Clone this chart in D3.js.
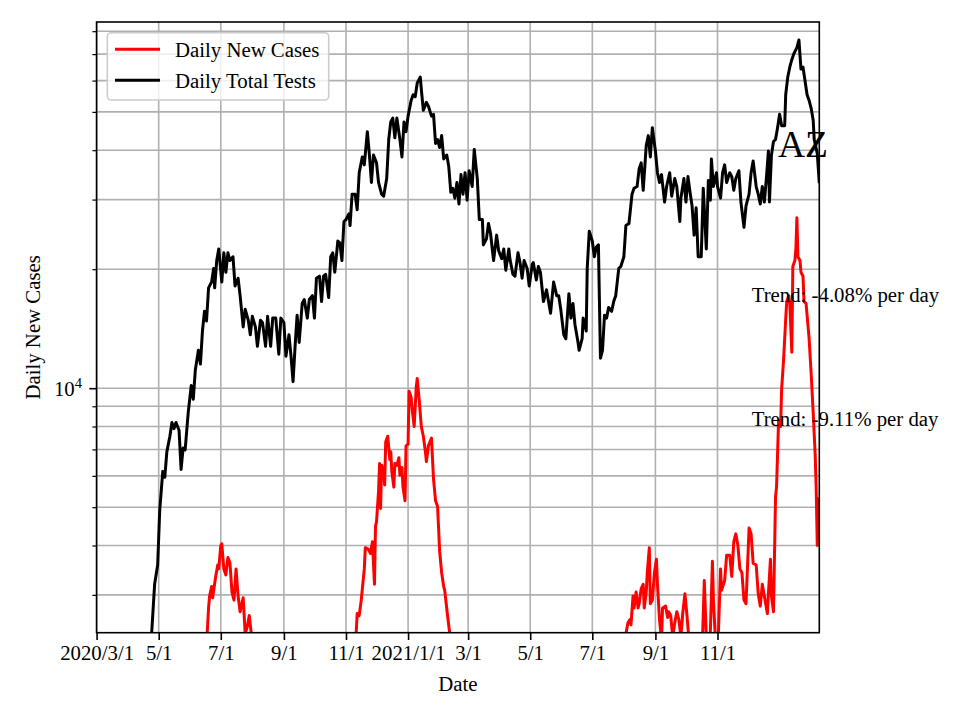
<!doctype html>
<html lang="en">

<head>
  <meta charset="utf-8" />
  <title>AZ - Daily New Cases and Daily Total Tests</title>
  <script src="https://d3js.org/d3.v7.min.js"></script>
  <style>
    body { margin: 0; background: #fff; }
    svg { display: block; font-family: "Liberation Serif", "Times New Roman", serif; }
  </style>
</head>

<body>
  <div id="my_dataviz"></div>
  <script>
    // days counted from 2020/3/1
    const testDays = [45, 54, 57, 60, 62, 65, 67, 69, 72, 74, 76, 78, 81, 83, 85, 87, 90, 93, 95, 97, 100, 102, 104, 106, 108, 110, 113, 115, 116, 118, 120,
      123, 125, 127, 129, 131, 134, 136, 139, 141, 144, 146, 149, 151, 153, 156, 158, 161, 163, 166, 168, 171, 173, 176, 179, 181, 184, 186, 189, 191, 193, 195, 197, 199,
      202, 204, 207, 209, 212, 214, 216, 219, 221, 223, 225, 228, 230, 232, 234, 237, 239, 241, 243, 245, 248, 249, 251, 254, 256, 258, 261, 263, 266, 268, 270, 272,
      275, 277, 280, 282, 285, 287, 289, 291, 293, 295, 298, 300, 302, 304, 306, 309, 311, 313, 315, 318, 319, 321, 324, 326, 329, 331, 333, 335, 337, 339, 341, 344,
      346, 348, 350, 352, 354, 356, 358, 360, 362, 364, 366, 369, 371, 374, 376, 379, 380, 383, 385, 387, 390, 393, 395, 398, 400, 402, 405, 406, 409, 411, 414, 416,
      418, 420, 423, 425, 428, 429, 432, 434, 436, 439, 442, 444, 446, 449, 452, 454, 456, 459, 461, 464, 466, 468, 470, 473, 474, 477, 478, 481, 482, 484, 487, 489,
      491, 493, 495, 497, 499, 501, 503, 506, 508, 510, 513, 515, 518, 520, 523, 526, 528, 531, 533, 535, 537, 540, 542, 544, 546, 549, 551, 553, 555, 558, 560, 563,
      565, 568, 570, 573, 574, 577, 579, 581, 583, 585, 587, 589, 591, 594, 596, 599, 601, 603, 604, 606, 609, 610, 613, 615, 617, 619, 622, 624, 626, 628, 631, 633,
      636, 638, 641, 643, 645, 648, 650, 652, 654, 656, 658, 660, 661, 663, 665, 667, 669, 671, 673, 676, 677, 679, 681, 683, 685, 688, 690, 692, 694, 696, 698, 700,
      702, 704, 705, 708, 710];
    const testValues = [1500, 2380, 3190, 3570, 4900, 6160, 5950, 6900, 7560, 8190, 7900, 8190, 7830, 6230, 7060, 6980, 8670, 10160, 9380, 11120, 12470, 11510, 13960, 15660, 14790, 17940, 18570, 20090, 17940, 21030, 22500,
      18560, 22000, 19650, 22000, 21030, 21500, 18140, 18980, 17140, 14290, 15830, 14860, 13650, 15200, 14290, 12760, 14860, 14650, 12760, 15200, 12760, 15040, 15040, 12190, 15040, 14650, 12050, 13650, 12050, 10390, 12760, 15300, 13050,
      16380, 16760, 15040, 16760, 17140, 15040, 18980, 19200, 16560, 19200, 19420, 16950, 21500, 22000, 19650, 23570, 23320, 21030, 26400, 26700, 27630, 25790, 30950, 30950, 28270, 35080, 38450, 36720, 44560, 38900, 33140, 38900,
      37150, 33140, 30950, 30600, 33900, 42560, 47130, 48220, 43000, 48220, 42560, 38450, 47130, 44560, 48770, 53440, 55240, 54600, 59180, 61220, 57100, 50480, 52840, 51650, 48770, 49300, 41590, 42560, 40630, 43550, 38020, 38900,
      36310, 31300, 32040, 30250, 33140, 29240, 34700, 30950, 35080, 29900, 35500, 32370, 40180, 33900, 26700, 26700, 23040, 23860, 26100, 24660, 21030, 24390, 22260, 21270, 22500, 19880, 22500, 21270, 19420, 19200, 22000, 20790,
      18980, 21030, 20090, 18140, 20560, 20790, 18770, 20320, 19650, 16560, 17740, 16560, 15480, 18560, 17140, 17140, 15830, 13650, 13340, 17340, 15040, 16380, 14450, 13050, 12470, 13340, 15040, 13960, 20090, 24940, 23570, 21500,
      22760, 23040, 11910, 12470, 15300, 15040, 16000, 15650, 16560, 17140, 20090, 20320, 21500, 25810, 26100, 30950, 32040, 32370, 35890, 37150, 31670, 41120, 43550, 38450, 45600, 39770, 35080, 33140, 34700, 29570, 32370, 35080,
      30600, 33900, 32370, 26400, 30250, 33900, 29570, 34300, 31300, 28920, 24390, 28600, 21500, 21500, 32040, 22500, 33520, 29900, 38000, 32370, 35080, 32370, 30250, 35080, 36720, 33140, 35080, 34300, 31670, 33900, 35500, 29570,
      25520, 28920, 30950, 35080, 37570, 32370, 30950, 29240, 32370, 29570, 33900, 39810, 29570, 38900, 42070, 42560, 45600, 49330, 46130, 46130, 55240, 61220, 64860, 67780, 70190, 72650, 76000, 64160, 64860, 59840, 55240, 53440,
      51050, 47650, 42560, 39260, 33000];

    const caseDays = [107, 110, 111, 113, 114, 117, 119, 120, 122, 123, 125, 127, 129, 131, 133, 135, 137, 139, 141, 144, 146, 148, 150, 152, 156, 200, 250,
      255, 256, 258, 260, 263, 264, 267, 269, 271, 273, 274, 275, 277, 278, 279, 280, 282, 283, 284, 286, 288, 289, 290, 292, 293, 295, 297, 298, 300, 301, 303, 304,
      306, 307, 309, 310, 312, 314, 315, 317, 319, 321, 323, 324, 326, 329, 331, 333, 335, 337, 339, 341, 342, 345, 347, 350, 420, 500,
      519, 520, 522, 524, 525, 527, 528, 530, 532, 533, 535, 537, 538, 540, 541, 543, 544, 546, 548, 550, 551, 553, 555, 556, 559, 561, 562, 564, 566, 568, 570, 572,
      574, 576, 578, 580, 582, 585, 590, 595, 597, 599, 601, 603, 605, 606, 608, 610, 611, 613, 614, 617, 619, 622, 624, 626, 628, 630, 632, 634, 636, 638, 641, 643,
      645, 648, 650, 652, 654, 656, 659, 660, 662, 663, 665, 667, 668, 670, 672, 673, 675, 677, 678, 680, 681, 683, 684, 686, 687, 688, 689, 691, 692, 694, 695, 697,
      700, 702, 704, 706, 707, 708, 709];
    const caseValues = [2000, 2780, 2980, 3150, 2950, 3340, 3570, 3490, 4000, 4040, 3490, 3370, 3730, 3610, 3050, 2910, 3490, 2980, 2720, 2950, 2390, 2490, 2660, 2390, 1900, 1600, 1900,
      2400, 2690, 2660, 2910, 3490, 3950, 3910, 3820, 4090, 3190, 4480, 4590, 5500, 6450, 4960, 6380, 6160, 5690, 7310, 7560, 6600, 6910, 6160, 5620, 6450, 6380, 6670, 6020, 6300, 5620, 5190, 7150,
      7220, 9820, 9490, 8860, 8000, 10050, 10580, 9280, 8000, 7560, 6910, 6520, 7150, 7480, 5890, 5190, 5020, 3870, 3410, 3150, 3080, 2630, 2390, 2000, 1500, 1700,
      2100, 2390, 2550, 2600, 2520, 2980, 2780, 3050, 2780, 2850, 3110, 3190, 2780, 3050, 3410, 3950, 2850, 2910, 3410, 3690, 3190, 2600, 2300, 2780, 2810, 2630, 2720, 2660, 2350, 2550, 2720, 2600,
      2350, 2720, 3020, 2660, 2300, 2000, 1900, 2200, 3260, 2350, 2200, 2430, 3650, 2910, 2300, 2200, 2450, 3490, 3080, 3260, 3780, 3780, 3340, 4090, 4280, 4000, 3490, 3410, 2910, 2850, 4430, 4280,
      3610, 3570, 3020, 2810, 3190, 2980, 2690, 3020, 3690, 2980, 2720, 5320, 5620, 8280, 8000, 9930, 11910, 14960, 16560, 17140, 16380, 12330, 20320, 21030, 22500, 27000, 21500, 21030, 19650, 19200, 16560, 16380,
      13340, 10880, 8670, 6750, 5500, 4000, 5300];

    const tickDates = ["2020-03-01", "2020-05-01", "2020-07-01", "2020-09-01", "2020-11-01", "2021-01-01",
      "2021-03-01", "2021-05-01", "2021-07-01", "2021-09-01", "2021-11-01"];
    const tickLabels = ["2020/3/1", "5/1", "7/1", "9/1", "11/1", "2021/1/1", "3/1", "5/1", "7/1", "9/1", "11/1"];
    const minorYTicks = [3000, 4000, 5000, 6000, 7000, 8000, 9000, 20000, 30000, 40000, 50000, 60000, 70000, 80000];
    const majorYTicks = [10000];
    const seriesNames = ["Daily New Cases", "Daily Total Tests"];
    const seriesColors = ["red", "black"];
    const trendLabels = ["Trend: -4.08% per day", "Trend: -9.11% per day"];
    const stateName = "AZ";

    const width = 960, height = 720;
    const pLeft = 96.6, pRight = 819.3, pTop = 22, pBottom = 632.7;
    const fs = 20.8;

    const start = Date.UTC(2020, 2, 1);
    const toDate = d => new Date(start + d * 864e5);

    const x = d3.scaleUtc()
      .domain([toDate(0), toDate(710)])
      .range([pLeft, pRight]);
    const y = d3.scaleLog()
      .domain([2407, 84400])
      .range([pBottom, pTop]);

    const svg = d3.select("#my_dataviz")
      .append("svg")
      .attr("width", width)
      .attr("height", height);

    svg.append("defs").append("clipPath").attr("id", "plotclip")
      .append("rect")
      .attr("x", pLeft).attr("y", pTop)
      .attr("width", pRight - pLeft).attr("height", pBottom - pTop);

    // grid
    const grid = svg.append("g").attr("stroke", "#b0b0b0").attr("stroke-width", 1.6);
    grid.selectAll("line.gy")
      .data(majorYTicks.concat(minorYTicks))
      .join("line")
      .attr("class", "gy")
      .attr("x1", pLeft).attr("x2", pRight)
      .attr("y1", d => y(d)).attr("y2", d => y(d));
    grid.selectAll("line.gx")
      .data(tickDates)
      .join("line")
      .attr("class", "gx")
      .attr("x1", d => x(new Date(d))).attr("x2", d => x(new Date(d)))
      .attr("y1", pTop).attr("y2", pBottom);

    // lines
    const line = d3.line()
      .x(d => x(toDate(d[0])))
      .y(d => y(d[1]));
    const plotG = svg.append("g").attr("clip-path", "url(#plotclip)");
    const series = [
      d3.zip(caseDays, caseValues),
      d3.zip(testDays, testValues)
    ];
    plotG.selectAll("path")
      .data(series)
      .join("path")
      .attr("d", line)
      .attr("fill", "none")
      .attr("stroke", (d, i) => seriesColors[i])
      .attr("stroke-width", 3)
      .attr("stroke-linejoin", "round");

    // annotations
    svg.append("text")
      .attr("x", 778).attr("y", 157)
      .style("font-size", "37.5px")
      .text(stateName);
    svg.selectAll("text.trend")
      .data(trendLabels)
      .join("text")
      .attr("class", "trend")
      .attr("x", 751.7)
      .attr("y", (d, i) => i === 0 ? 301.7 : 426)
      .style("font-size", fs + "px")
      .text(d => d);

    // axes
    const xAxis = d3.axisBottom(x)
      .tickValues(tickDates.map(d => new Date(d)))
      .tickFormat((d, i) => tickLabels[i])
      .tickSize(7.3)
      .tickPadding(5);
    const gx = svg.append("g")
      .attr("transform", `translate(0,${pBottom})`)
      .call(xAxis);
    gx.select(".domain").remove();
    gx.selectAll("line").attr("stroke", "black").attr("stroke-width", 1.6);
    gx.selectAll("text")
      .attr("font-family", "Liberation Serif, serif")
      .style("font-size", fs + "px")
      .attr("fill", "black");

    const gyMinor = svg.append("g")
      .attr("transform", `translate(${pLeft},0)`)
      .call(d3.axisLeft(y).tickValues(minorYTicks).tickSize(4.2).tickFormat(""));
    gyMinor.select(".domain").remove();
    gyMinor.selectAll("line").attr("stroke", "black").attr("stroke-width", 1.2);

    const gyMajor = svg.append("g")
      .attr("transform", `translate(${pLeft},0)`)
      .call(d3.axisLeft(y).tickValues(majorYTicks).tickSize(7.3).tickFormat(""));
    gyMajor.select(".domain").remove();
    gyMajor.selectAll("line").attr("stroke", "black").attr("stroke-width", 1.6);
    const lab = gyMajor.selectAll(".tick").append("text")
      .attr("x", -14.6)
      .attr("y", 7)
      .attr("text-anchor", "end")
      .attr("fill", "black")
      .attr("font-family", "Liberation Serif, serif")
      .style("font-size", fs + "px");
    lab.append("tspan").text("10");
    lab.append("tspan")
      .attr("dy", -8)
      .style("font-size", "14.6px")
      .text(d => Math.round(Math.log10(d)));

    // frame
    svg.append("rect")
      .attr("x", pLeft).attr("y", pTop)
      .attr("width", pRight - pLeft).attr("height", pBottom - pTop)
      .attr("fill", "none")
      .attr("stroke", "black")
      .attr("stroke-width", 1.6);

    // axis labels
    svg.append("text")
      .attr("x", (pLeft + pRight) / 2).attr("y", 691)
      .attr("text-anchor", "middle")
      .style("font-size", fs + "px")
      .text("Date");
    svg.append("text")
      .attr("transform", `translate(33,${(pTop + pBottom) / 2}) rotate(-90)`)
      .attr("text-anchor", "middle")
      .attr("dy", "0.35em")
      .style("font-size", fs + "px")
      .text(seriesNames[0]);

    // legend
    const legendG = svg.append("g");
    legendG.append("rect")
      .attr("x", 107.3).attr("y", 32.7)
      .attr("width", 221.4).attr("height", 67.3)
      .attr("rx", 4)
      .attr("fill", "white").attr("fill-opacity", 0.8)
      .attr("stroke", "#cccccc").attr("stroke-width", 1.6);
    legendG.selectAll("line")
      .data(seriesNames)
      .join("line")
      .attr("x1", 115).attr("x2", 160)
      .attr("y1", (d, i) => 49.3 + i * 31).attr("y2", (d, i) => 49.3 + i * 31)
      .attr("stroke", (d, i) => seriesColors[i])
      .attr("stroke-width", 3);
    legendG.selectAll("text")
      .data(seriesNames)
      .join("text")
      .attr("x", 175)
      .attr("y", (d, i) => 49.3 + i * 31)
      .attr("dy", "0.35em")
      .style("font-size", fs + "px")
      .text(d => d);
  </script>
</body>

</html>
